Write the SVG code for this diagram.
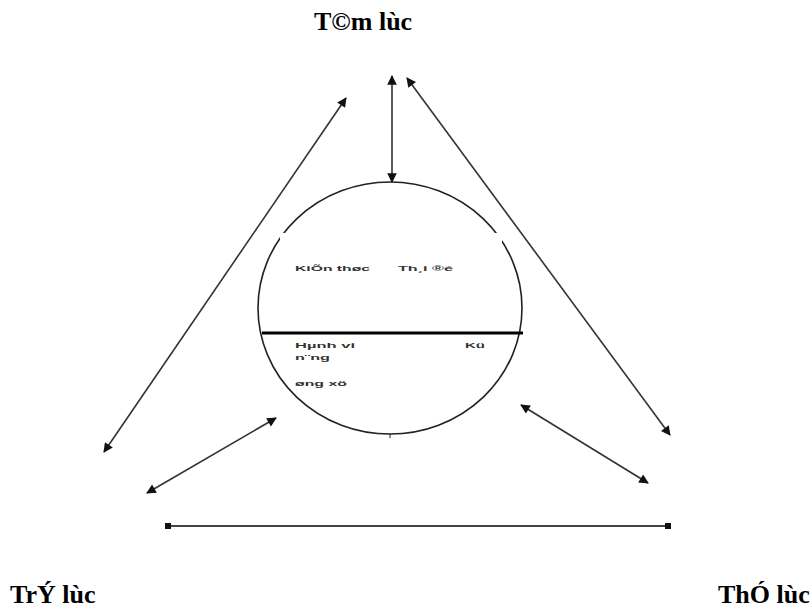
<svg xmlns="http://www.w3.org/2000/svg" width="812" height="612" viewBox="0 0 812 612">
<style>
.lbl{font-family:"Liberation Serif","Times New Roman",serif;font-weight:bold;font-size:26px;fill:#000}
.sm{font-family:"Liberation Sans",Arial,sans-serif;font-size:7px;font-weight:bold;fill:#333}
.con{stroke:#333;stroke-width:1.6;fill:none;marker-start:url(#ah);marker-end:url(#ah)}
</style>
<defs>
<marker id="ah" viewBox="0 0 10 10" refX="9" refY="5" markerWidth="7" markerHeight="6" orient="auto-start-reverse" markerUnits="strokeWidth">
<path d="M0,0 L10,5 L0,10 z" fill="#111"/>
</marker>
<marker id="sq" viewBox="0 0 4 4" refX="2" refY="2" markerWidth="3" markerHeight="3" markerUnits="strokeWidth">
<rect width="4" height="4" fill="#111"/>
</marker>
</defs>
<rect width="812" height="612" fill="#fff"/>
<g id="connectors">
<line class="con" x1="392" y1="182" x2="392" y2="76"/>
<line class="con" x1="346" y1="98" x2="104" y2="452"/>
<line class="con" x1="407" y1="78" x2="670" y2="435"/>
<line class="con" x1="276" y1="418" x2="147" y2="493"/>
<line class="con" x1="521" y1="405" x2="648" y2="483"/>
<line x1="168" y1="526" x2="668" y2="526" stroke="#444" stroke-width="2" marker-start="url(#sq)" marker-end="url(#sq)"/>
</g>
<g id="center">
<ellipse cx="390" cy="308" rx="132" ry="126" fill="#fff" stroke="#222" stroke-width="1.6"/>
<rect x="280" y="233" width="222" height="98" fill="#fff"/>
<line x1="262" y1="333" x2="523" y2="333" stroke="#000" stroke-width="3"/>
<line x1="390" y1="434" x2="390" y2="438" stroke="#222" stroke-width="1"/>
<text class="sm" x="295" y="271" textLength="75" lengthAdjust="spacingAndGlyphs">KiÕn thøc</text>
<text class="sm" x="398" y="271" textLength="55" lengthAdjust="spacingAndGlyphs">Th¸i ®é</text>
<text class="sm" x="295" y="348" textLength="60" lengthAdjust="spacingAndGlyphs">Hµnh vi</text>
<text class="sm" x="465" y="348" textLength="20" lengthAdjust="spacingAndGlyphs">Kü</text>
<text class="sm" x="295" y="360" textLength="35" lengthAdjust="spacingAndGlyphs">n¨ng</text>
<text class="sm" x="295" y="386" textLength="52" lengthAdjust="spacingAndGlyphs">øng xö</text>
</g>
<g id="top"><text class="lbl" x="314" y="30">T©m lùc</text></g>
<g id="left"><text class="lbl" x="10" y="603">TrÝ lùc</text></g>
<g id="right"><text class="lbl" x="718" y="603">ThÓ lùc</text></g>
</svg>
